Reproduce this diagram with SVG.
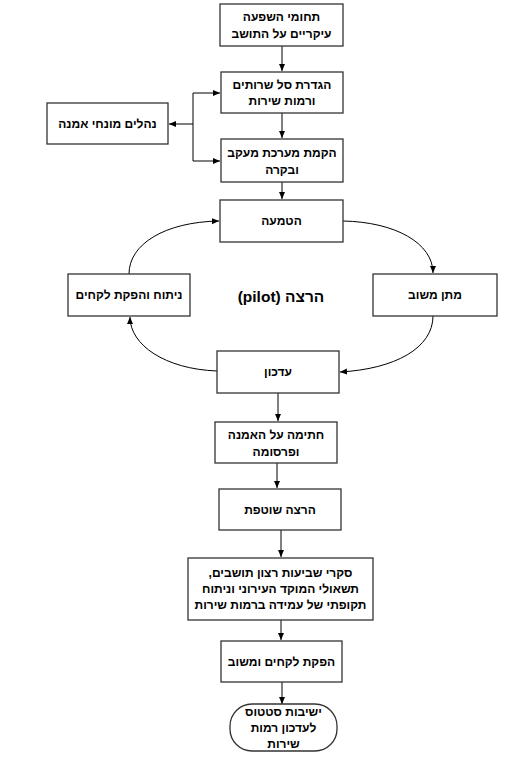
<svg xmlns="http://www.w3.org/2000/svg" width="511" height="760" viewBox="0 0 511 760">
<defs>
<marker id="ah" markerWidth="8" markerHeight="8" refX="7" refY="4" orient="auto" markerUnits="userSpaceOnUse">
<path d="M0,1 L7,4 L0,7 Z" fill="#000"/>
</marker>
<style>
.box{fill:#fff;stroke:#333;stroke-width:1.3}
.c{fill:none;stroke:#000;stroke-width:1}
.t{font-family:"Liberation Sans","DejaVu Sans",Arial,sans-serif;font-size:12px;font-weight:bold;fill:#000;text-anchor:middle;direction:rtl;unicode-bidi:embed}
.big{font-size:15.5px}
</style>
</defs>
<rect width="511" height="760" fill="#fff"/>
<g id="connectors">
<path class="c" d="M282,46 V71" marker-end="url(#ah)"/>
<path class="c" d="M282,113 V138" marker-end="url(#ah)"/>
<path class="c" d="M282,182 V199" marker-end="url(#ah)"/>
<path class="c" d="M193,93 V161"/>
<path class="c" d="M193,93 H220" marker-end="url(#ah)"/>
<path class="c" d="M193,161 H220" marker-end="url(#ah)"/>
<path class="c" d="M193,124 H169" marker-end="url(#ah)"/>
<path class="c" d="M343,221 C395,222 433,243 433,273" marker-end="url(#ah)"/>
<path class="c" d="M433,316 C433,348 395,369 340,372" marker-end="url(#ah)"/>
<path class="c" d="M217,371 C165,369 130,345 130,317" marker-end="url(#ah)"/>
<path class="c" d="M129,274 C129,244 165,222 219,221" marker-end="url(#ah)"/>
<path class="c" d="M278,393 V421" marker-end="url(#ah)"/>
<path class="c" d="M277,463 V488" marker-end="url(#ah)"/>
<path class="c" d="M281,530 V557" marker-end="url(#ah)"/>
<path class="c" d="M281,620 V640" marker-end="url(#ah)"/>
<path class="c" d="M282,682 V704" marker-end="url(#ah)"/>
</g>
<g id="n1"><rect class="box" x="220" y="4" width="123" height="42"/><text class="t" x="281.5" y="21">תחומי השפעה</text><text class="t" x="281.5" y="38">עיקריים על התושב</text></g>
<g id="n2"><rect class="box" x="221" y="72" width="122" height="41"/><text class="t" x="282" y="89">הגדרת סל שרותים</text><text class="t" x="282" y="105">ורמות שירות</text></g>
<g id="n3"><rect class="box" x="221" y="139" width="122" height="43"/><text class="t" x="282" y="157">הקמת מערכת מעקב</text><text class="t" x="282" y="174">ובקרה</text></g>
<g id="n4"><rect class="box" x="47" y="103" width="121" height="41"/><text class="t" x="107.5" y="128">נהלים מונחי אמנה</text></g>
<g id="n5"><rect class="box" x="220" y="200" width="123" height="42"/><text class="t" x="281.5" y="225">הטמעה</text></g>
<g id="n6"><rect class="box" x="373" y="274" width="124" height="42"/><text class="t" x="435" y="299">מתן משוב</text></g>
<g id="n7"><rect class="box" x="68" y="274" width="122" height="42"/><text class="t" x="129" y="299">ניתוח והפקת לקחים</text></g>
<g id="n8"><rect class="box" x="217" y="351" width="122" height="42"/><text class="t" x="278" y="376">עדכון</text></g>
<g id="center"><text class="t big" x="281" y="302">הרצה (pilot)</text></g>
<g id="n9"><rect class="box" x="215" y="422" width="122" height="41"/><text class="t" x="276" y="439">חתימה על האמנה</text><text class="t" x="276" y="456">ופרסומה</text></g>
<g id="n10"><rect class="box" x="219" y="489" width="122" height="41"/><text class="t" x="280" y="514">הרצה שוטפת</text></g>
<g id="n11"><rect class="box" x="188" y="558" width="185" height="62"/><text class="t" x="280.5" y="577">סקרי שביעות רצון תושבים,</text><text class="t" x="280.5" y="593">תשאולי המוקד העירוני וניתוח</text><text class="t" x="280.5" y="609">תקופתי של עמידה ברמות שירות</text></g>
<g id="n12"><rect class="box" x="221" y="641" width="121" height="41"/><text class="t" x="281.5" y="666">הפקת לקחים ומשוב</text></g>
<g id="n13"><rect class="box" x="230" y="704" width="107" height="47" rx="22" ry="22"/><text class="t" x="283.5" y="716">ישיבות סטטוס</text><text class="t" x="283.5" y="732">לעדכון רמות</text><text class="t" x="283.5" y="748">שירות</text></g>
</svg>
